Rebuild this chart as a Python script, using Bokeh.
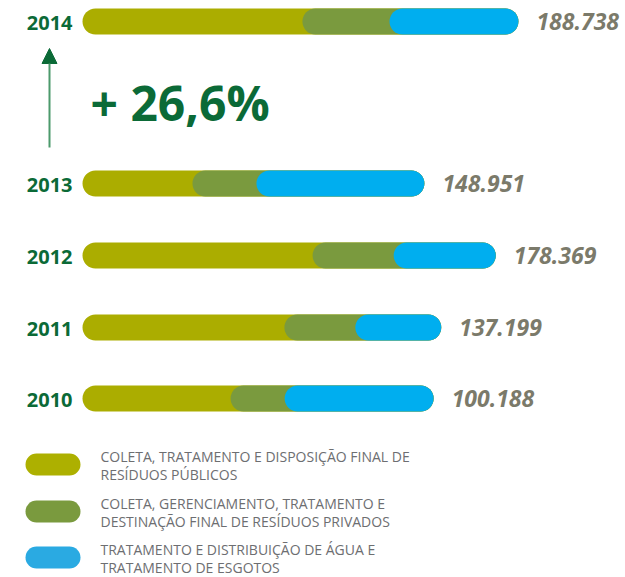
from bokeh.plotting import figure
from bokeh.models import ColumnDataSource, Range1d, Arrow, NormalHead
from bokeh.core.properties import value
from bokeh.embed import file_html
from bokeh.resources import INLINE

# ---------------- data ----------------
years = ["2014", "2013", "2012", "2011", "2010"]
publicos = [95.2, 47.6, 99.6, 87.4, 64.1]   # coleta/tratamento resíduos públicos
privados = [37.7, 27.7, 35.1, 30.7, 23.4]   # resíduos privados
agua = [55.8, 72.7, 44.2, 37.2, 64.5]       # água e esgotos
total_labels = ["188.738", "148.951", "178.369", "137.199", "100.188"]
growth_label = "+ 26,6%"
legend_lines = [
    ["COLETA, TRATAMENTO E DISPOSIÇÃO FINAL DE", "RESÍDUOS PÚBLICOS"],
    ["COLETA, GERENCIAMENTO, TRATAMENTO E", "DESTINAÇÃO FINAL DE RESÍDUOS PRIVADOS"],
    ["TRATAMENTO E DISTRIBUIÇÃO DE ÁGUA E", "TRATAMENTO DE ESGOTOS"],
]

# ---------------- styles / layout ----------------
OLIVE = "#abad00"
GREEN = "#7a9a3e"
BLUE = "#00aeef"
LEG_COLORS = ["#adb000", "#7a9a3e", "#2aaae2"]
DARK_GREEN = "#0b6a37"
GRAY = "#7b7a6a"
LEG_TEXT = "#6d6e71"
FONT = "Open Sans"

W, H = 625, 577
k = 0.43288            # value units per pixel
x0_px = 82             # pixel of value 0 inside the figure
row_y = [21, 183, 255, 327, 398]


def px(xpix):
    """pixel inside figure -> data x"""
    return (xpix - x0_px) * k


p = figure(width=W, height=H, output_backend="svg", toolbar_location=None,
           x_range=Range1d(px(0), px(W)), y_range=Range1d(H, 0),
           x_axis_location=None, y_axis_location=None, min_border=0)
p.grid.visible = False
p.outline_line_color = None
p.background_fill_color = "white"

s1 = [a for a in publicos]
s2 = [a + b for a, b in zip(publicos, privados)]
tot = [a + b + c for a, b, c in zip(publicos, privados, agua)]
src = ColumnDataSource(dict(y=row_y, years=years, s1=s1, s2=s2, tot=tot,
                            zero=[0] * len(years), lab=total_labels,
                            yy=[v + 1 for v in row_y]))

p.hbar(y="y", left="zero", right="tot", height=26, source=src,
       fill_color=OLIVE, line_color=None, border_radius=13)
p.hbar(y="y", left="s1", right="tot", height=26, source=src,
       fill_color=GREEN, line_color=None, border_radius=13)
p.hbar(y="y", left="s2", right="tot", height=26, source=src,
       fill_color=BLUE, line_color=None, border_radius=13)

# year labels
p.text(x="zero", y="yy", text="years", source=src, x_offset=-10,
       text_align="right", text_baseline="middle",
       text_font=value(FONT), text_font_style="bold",
       text_font_size="20px", text_color=DARK_GREEN)
# totals
p.text(x="tot", y="y", text="lab", source=src, x_offset=18,
       text_align="left", text_baseline="middle",
       text_font=value(FONT), text_font_style="bold italic",
       text_font_size="23px", text_color=GRAY)

# growth arrow + label
p.add_layout(Arrow(x_start=px(49), y_start=147, x_end=px(49), y_end=48,
                   line_color="#4c9a6c", line_width=2,
                   end=NormalHead(size=15, fill_color=DARK_GREEN,
                                  line_color=DARK_GREEN)))
p.text(x=[px(90)], y=[102], text=[growth_label],
       text_font=value(FONT), text_font_style="bold", text_font_size="48px",
       text_color=DARK_GREEN, text_baseline="middle", text_align="left")

# legend
leg_y = [464, 511, 557]
p.hbar(y=leg_y, left=[px(25)] * 3, right=[px(80)] * 3, height=22,
       fill_color=LEG_COLORS, line_color=None, border_radius=11)
lx, ly, lt = [], [], []
for cy, lines in zip(leg_y, legend_lines):
    for i, t in enumerate(lines):
        lx.append(px(100))
        ly.append(cy - 8 + 18 * i)
        lt.append(t)
p.text(x=lx, y=ly, text=lt, text_font=value(FONT), text_font_size="14px",
       text_color=LEG_TEXT, text_baseline="middle", text_align="left")

open("out.html", "w").write(file_html(p, INLINE))
